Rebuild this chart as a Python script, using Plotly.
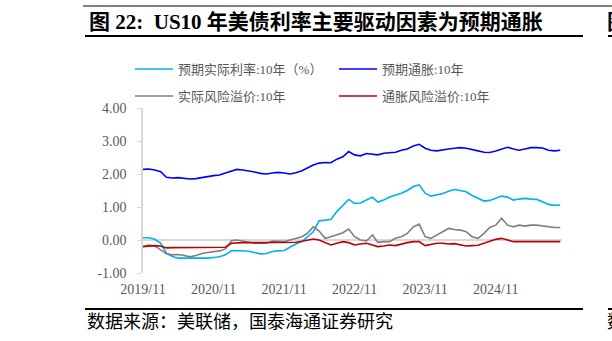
import pandas as pd
import plotly.graph_objects as go

# monthly observations, 2019/11 .. 2025/10
dates = pd.date_range("2019-11-01", periods=72, freq="MS")

real_rate = [0.07, 0.07, 0.02, -0.10, -0.40, -0.50, -0.55, -0.55, -0.56, -0.56,
             -0.55, -0.55, -0.53, -0.51, -0.45, -0.33, -0.32, -0.32, -0.34, -0.38,
             -0.42, -0.41, -0.35, -0.33, -0.32, -0.22, -0.12, -0.05, 0.10, 0.25,
             0.58, 0.60, 0.62, 0.86, 1.05, 1.23, 1.11, 1.12, 1.21, 1.30,
             1.15, 1.21, 1.30, 1.35, 1.42, 1.50, 1.62, 1.67, 1.42, 1.33,
             1.36, 1.41, 1.48, 1.53, 1.50, 1.46, 1.35, 1.26, 1.18, 1.20,
             1.26, 1.33, 1.30, 1.21, 1.24, 1.26, 1.24, 1.23, 1.16, 1.08,
             1.05, 1.06]

exp_infl = [2.14, 2.15, 2.12, 2.07, 1.90, 1.88, 1.89, 1.87, 1.85, 1.86,
            1.90, 1.92, 1.95, 1.97, 2.03, 2.10, 2.14, 2.12, 2.10, 2.06,
            2.02, 2.00, 2.03, 2.05, 2.03, 2.00, 2.04, 2.10, 2.18, 2.27,
            2.33, 2.35, 2.34, 2.45, 2.52, 2.68, 2.58, 2.55, 2.62, 2.60,
            2.58, 2.63, 2.65, 2.66, 2.72, 2.76, 2.85, 2.90, 2.78, 2.72,
            2.70, 2.74, 2.76, 2.78, 2.80, 2.78, 2.73, 2.70, 2.66, 2.65,
            2.70, 2.75, 2.81, 2.76, 2.72, 2.76, 2.80, 2.80, 2.79, 2.72,
            2.70, 2.72]

real_prem = [-0.20, -0.15, -0.18, -0.30, -0.42, -0.45, -0.44, -0.47, -0.51, -0.47,
             -0.41, -0.38, -0.35, -0.33, -0.27, -0.02, 0.00, -0.03, -0.05, -0.10,
             -0.10, -0.10, -0.03, -0.05, -0.05, 0.00, 0.05, 0.10, 0.20, 0.40,
             0.27, 0.05, 0.10, 0.15, 0.22, 0.33, 0.10, 0.00, -0.03, 0.15,
             -0.07, -0.05, -0.05, 0.05, 0.10, 0.20, 0.40, 0.48, 0.10, 0.05,
             0.15, 0.25, 0.35, 0.32, 0.30, 0.25, 0.10, 0.05, 0.20, 0.38,
             0.45, 0.66, 0.45, 0.40, 0.45, 0.42, 0.45, 0.45, 0.42, 0.40,
             0.38, 0.38]

infl_prem = [-0.20, -0.18, -0.17, -0.18, -0.24, -0.23, -0.23, -0.23, -0.23, -0.23,
             -0.23, -0.23, -0.23, -0.23, -0.22, -0.10, -0.08, -0.08, -0.08, -0.08,
             -0.08, -0.08, -0.08, -0.08, -0.08, -0.08, -0.07, -0.04, 0.00, 0.03,
             0.00, -0.08, -0.15, -0.10, -0.05, -0.08, -0.15, -0.12, -0.10, -0.15,
             -0.20, -0.18, -0.15, -0.17, -0.12, -0.08, -0.05, -0.05, -0.17, -0.14,
             -0.10, -0.10, -0.12, -0.11, -0.14, -0.18, -0.17, -0.16, -0.10, -0.04,
             0.02, 0.05, 0.00, -0.05, -0.05, -0.05, -0.05, -0.05, -0.05, -0.05,
             -0.05, -0.05]

names = ["预期实际利率:10年（%）", "预期通胀:10年", "实际风险溢价:10年", "通胀风险溢价:10年"]
colors = ["#00B0F0", "#0000FF", "#7F7F7F", "#C00000"]
series = [real_rate, exp_infl, real_prem, infl_prem]
legend_ids = ["legend", "legend2", "legend3", "legend4"]
legend_pos = [(130, 69), (334, 69), (130, 96), (334, 96)]

xtick_vals = ["2019-11-01", "2020-11-01", "2021-11-01", "2022-11-01", "2023-11-01", "2024-11-01"]
xtick_text = ["2019/11", "2020/11", "2021/11", "2022/11", "2023/11", "2024/11"]
ytick_vals = [-1, 0, 1, 2, 3, 4]
ytick_text = ["-1.00", "0.00", "1.00", "2.00", "3.00", "4.00"]

FONT = "Liberation Serif, Noto Sans CJK SC, serif"
GREY = "#595959"

W, H = 612, 341
L, R, T, B = 143, 50, 108, 68

fig = go.Figure()
for name, col, ys, lg in zip(names, colors, series, legend_ids):
    fig.add_trace(go.Scatter(x=dates, y=ys, mode="lines", name=name,
                             line=dict(color=col, width=1.6), legend=lg))

legend_common = dict(orientation="h", xref="container", yref="container",
                     xanchor="left", yanchor="middle", bgcolor="rgba(0,0,0,0)",
                     font=dict(family=FONT, size=13, color=GREY),
                     itemwidth=38)
legend_layout = {}
for lg, (lx, ly) in zip(legend_ids, legend_pos):
    legend_layout[lg] = dict(x=lx / W, y=1 - ly / H, **legend_common)

fig.update_layout(
    width=W, height=H,
    margin=dict(l=L, r=R, t=T, b=B, pad=0, autoexpand=False),
    paper_bgcolor="white", plot_bgcolor="white",
    font=dict(family=FONT, size=14, color=GREY),
    showlegend=True,
    xaxis=dict(range=["2019-11-01", "2025-10-10"], tickmode="array",
               tickvals=xtick_vals, ticktext=xtick_text, showgrid=False,
               showline=False, zeroline=False, ticks="",
               tickfont=dict(family=FONT, size=14, color=GREY),
               ticklabelstandoff=6),
    yaxis=dict(range=[-1, 4], tickmode="array", tickvals=ytick_vals,
               ticktext=ytick_text, showgrid=False, showline=True,
               linecolor="#D9D9D9", linewidth=1.5, ticks="outside", ticklen=4,
               tickcolor="#D9D9D9", zeroline=True, zerolinecolor="#D9D9D9",
               zerolinewidth=1.5, tickfont=dict(family=FONT, size=14, color=GREY),
               ticklabelstandoff=8),
    **legend_layout,
)


def px(x):
    return (x - L) / (W - L - R)


def py(y):
    return (H - B - y) / (H - T - B)


fig.add_shape(type="line", xref="paper", yref="paper", x0=px(83), x1=px(614),
              y0=py(6), y1=py(6), line=dict(color="#000", width=1))
for yy in (36, 309):
    fig.add_shape(type="line", xref="paper", yref="paper", x0=px(85), x1=px(583),
                  y0=py(yy), y1=py(yy), line=dict(color="#000", width=2))
    fig.add_shape(type="line", xref="paper", yref="paper", x0=px(608), x1=px(614),
                  y0=py(yy), y1=py(yy), line=dict(color="#000", width=2))

fig.add_annotation(xref="paper", yref="paper", x=px(87), y=py(22),
                   xanchor="left", yanchor="middle", showarrow=False,
                   text="<b>图 22:  US10 年美债利率主要驱动因素为预期通胀</b>",
                   font=dict(family=FONT, size=21, color="#000"))
fig.add_annotation(xref="paper", yref="paper", x=px(85), y=py(322),
                   xanchor="left", yanchor="middle", showarrow=False,
                   text="数据来源：美联储，国泰海通证券研究",
                   font=dict(family=FONT, size=18, color="#000"))
fig.add_annotation(xref="paper", yref="paper", x=px(605), y=py(22),
                   xanchor="left", yanchor="middle", showarrow=False,
                   text="<b>图</b>", font=dict(family=FONT, size=21, color="#000"))
fig.add_annotation(xref="paper", yref="paper", x=px(605), y=py(322),
                   xanchor="left", yanchor="middle", showarrow=False,
                   text="数", font=dict(family=FONT, size=18, color="#000"))

fig.write_html("out.html")
